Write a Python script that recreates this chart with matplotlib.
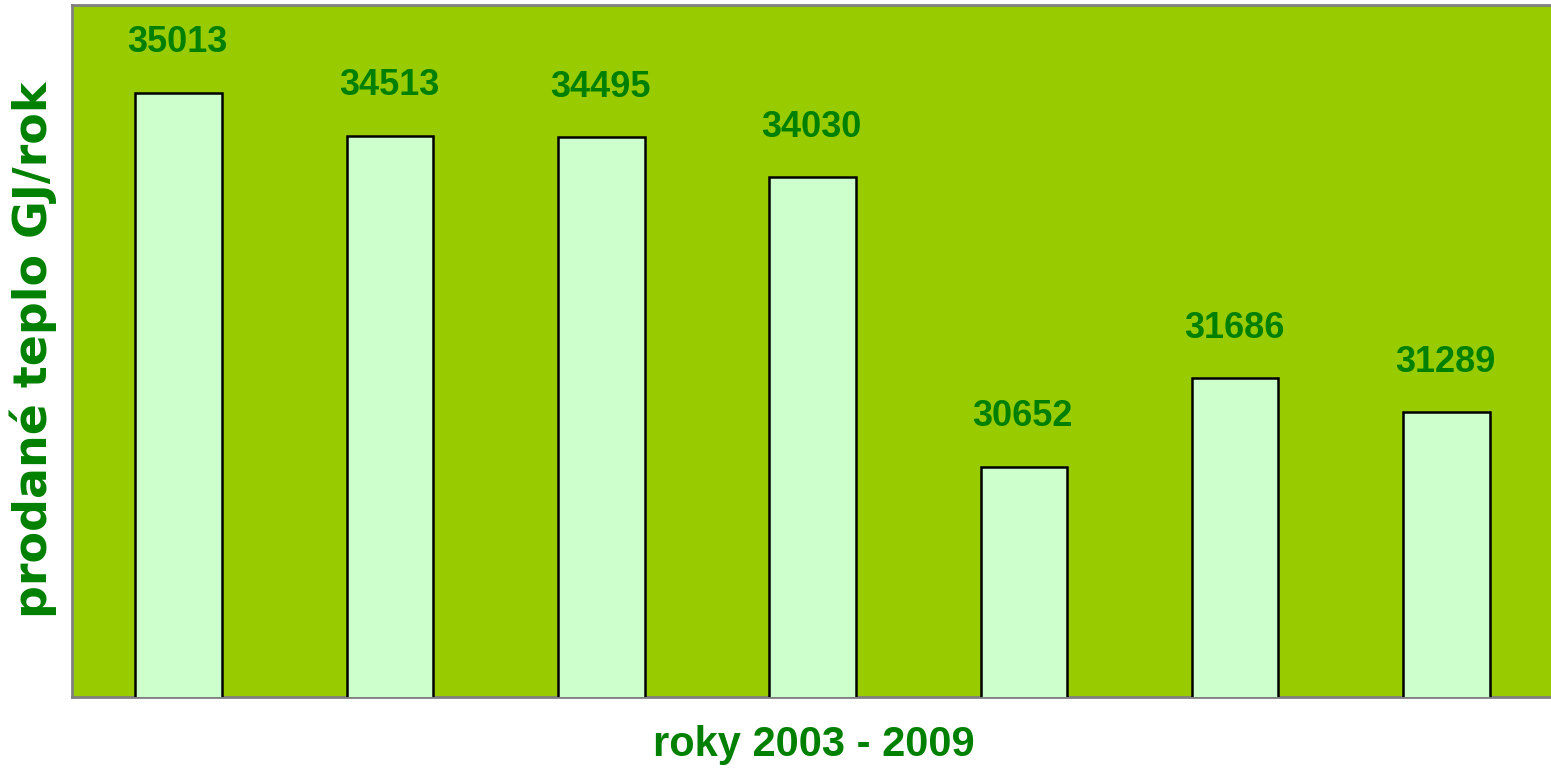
import matplotlib.pyplot as plt

# prodane teplo po rocich 2003 - 2009
roky = ["2003", "2004", "2005", "2006", "2007", "2008", "2009"]
teplo = [35013, 34513, 34495, 34030, 30652, 31686, 31289]

ZELENA = "#008000"
POZADI = "#99CC00"
SLOUPEC = "#CCFFCC"
uzky = ["Liberation Sans Narrow", "Liberation Sans", "DejaVu Sans"]

fig = plt.figure(figsize=(15.51, 7.75), dpi=100)
ax = fig.add_axes([72 / 1551, 78 / 775, 1 - 72 / 1551, 692 / 775])
ax.set_facecolor(POZADI)

x = range(len(roky))
ax.bar([i + 0.005 for i in x], teplo, width=0.41, color=SLOUPEC, edgecolor="black",
       linewidth=1.8, zorder=3)
for i, v in zip(x, teplo):
    ax.annotate(f"{v}", xy=(i, v), xytext=(0, 39), textcoords="offset points",
                ha="center", va="center_baseline", fontsize=26, fontweight="bold",
                color=ZELENA, family=uzky)

ax.set_xlim(-0.5, len(roky) - 0.5)
ax.set_ylim(27970, 36040)
ax.set_xticks([])
ax.set_yticks([])
for s in ["top", "left", "bottom"]:
    ax.spines[s].set_color("#808080")
    ax.spines[s].set_linewidth(2)
ax.spines["right"].set_visible(False)

fig.text(814 / 1551, 1 - 745 / 775, "roky 2003 - 2009", ha="center", va="center",
         fontsize=30, fontweight="bold", color=ZELENA, family=uzky)
fig.text(33 / 1551, 1 - 350 / 775, "prodané teplo GJ/rok", ha="center", va="center",
         rotation=90, fontsize=33, fontweight="bold", color=ZELENA, family="DejaVu Sans")

fig.savefig("out.png", dpi=100)
